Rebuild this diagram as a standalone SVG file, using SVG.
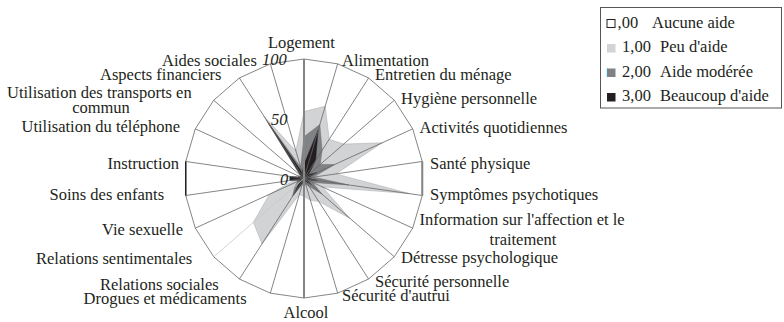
<svg xmlns="http://www.w3.org/2000/svg" width="784" height="322" viewBox="0 0 784 322">
<style>
text{font-family:"Liberation Serif","Times New Roman",serif;font-size:16.5px;fill:#231f20}
.it{font-style:italic}
.grid{fill:none;stroke:#666;stroke-width:0.8}
.s1{fill:#d1d3d4;stroke:#a7a9ac;stroke-width:0.5}
.s2{fill:#808285;stroke:#6d6e71;stroke-width:0.5}
.s3{fill:#231f20;stroke:#231f20;stroke-width:0.5}
</style>
<rect width="784" height="322" fill="#fff"/>
<g id="web-fill">
<polygon points="304,59 337.67,63.84 368.61,77.97 394.31,100.24 412.70,128.86 422.28,161.49 422.28,195.51 412.70,228.14 394.31,256.76 368.61,279.03 337.67,293.16 304,298 270.33,293.16 239.39,279.03 213.69,256.76 195.30,228.14 185.72,195.51 185.72,161.49 195.30,128.86 213.69,100.24 239.39,77.97 270.33,63.84" fill="#fff" stroke="none"/>
</g>
<g id="series">
<polygon id="peu-aide" class="s1" points="304,111.6 325.2,106.2 329.2,139.3 343.8,144.1 382.2,142.8 336.0,173.9 409.3,193.6 322.5,186.9 350.0,218.4 318.9,201.6 310.4,200.3 304,196.4 299.3,194.5 262.0,243.9 253.4,222.3 269.3,194.4 294.5,179.9 298.1,177.6 298.5,176.0 299.5,174.6 263.9,116.2 295.9,151.0"/>
<polygon id="aide-moderee" class="s2" points="304,136.7 319.8,124.6 322.1,150.3 320.2,164.4 334.5,164.6 313.5,177.1 348.9,185.0 312.7,182.5 322.1,194.2 309.2,186.6 305.7,184.3 304,184.5 302.3,184.3 292.4,196.6 294.9,186.4 297.5,181.5 296.9,179.5 296.9,177.5 299.6,176.5 300.4,175.4 266.5,120.2 300.6,167.0"/>
<polygon id="beaucoup-aide" class="s3" points="304,164.2 318.1,130.3 315.6,160.4 308.5,174.6 317.0,172.6 307.6,178.0 318.2,180.5 307.3,180.0 311.3,184.8 305.9,181.5 305.0,182.0 304,182.1 303.0,182.0 293.7,194.6 299.5,182.4 300.7,180.0 289.8,180.5 289.8,176.5 300.7,177.0 301.3,176.1 268.5,123.2 302.3,172.7"/>
</g>
<g id="grid">
<polygon class="grid" points="304,59 337.67,63.84 368.61,77.97 394.31,100.24 412.70,128.86 422.28,161.49 422.28,195.51 412.70,228.14 394.31,256.76 368.61,279.03 337.67,293.16 304,298 270.33,293.16 239.39,279.03 213.69,256.76 195.30,228.14 185.72,195.51 185.72,161.49 195.30,128.86 213.69,100.24 239.39,77.97 270.33,63.84"/>
<path class="grid" d="M304,178.5L337.67,63.84M304,178.5L368.61,77.97M304,178.5L394.31,100.24M304,178.5L412.70,128.86M304,178.5L422.28,161.49M304,178.5L422.28,195.51M304,178.5L412.70,228.14M304,178.5L394.31,256.76M304,178.5L368.61,279.03M304,178.5L337.67,293.16M304,178.5L270.33,293.16M304,178.5L239.39,279.03M304,178.5L195.30,228.14M304,178.5L185.72,195.51M304,178.5L185.72,161.49M304,178.5L195.30,128.86M304,178.5L213.69,100.24M304,178.5L239.39,77.97M304,178.5L270.33,63.84"/>
<line x1="304" y1="178.5" x2="213.69" y2="256.76" stroke="#c8c8c8" stroke-width="0.8"/>
<line x1="304" y1="59" x2="304" y2="298" stroke="#858585" stroke-width="2"/>
<line x1="422.28" y1="161.49" x2="422.28" y2="195.51" stroke="#858585" stroke-width="2"/>
<line x1="185.72" y1="161.49" x2="185.72" y2="195.51" stroke="#231f20" stroke-width="1.5"/>
</g>
<g id="scale">
<text class="it" x="262" y="65">100</text>
<text class="it" x="271" y="125">50</text>
<text class="it" x="280" y="185">0</text>
</g>
<g id="labels">
<text x="268" y="48">Logement</text>
<text x="342" y="66">Alimentation</text>
<text x="375" y="79.5">Entretien du ménage</text>
<text x="401" y="103.5">Hygiène personnelle</text>
<text x="419.5" y="133">Activités quotidiennes</text>
<text x="430" y="168.5">Santé physique</text>
<text x="430" y="200">Symptômes psychotiques</text>
<text x="419.5" y="225">Information sur l'affection et le</text>
<text x="523" y="245" text-anchor="middle">traitement</text>
<text x="401" y="263">Détresse psychologique</text>
<text x="375" y="287">Sécurité personnelle</text>
<text x="342" y="301">Sécurité d'autrui</text>
<text x="283.5" y="318">Alcool</text>
<text x="83.5" y="303.5">Drogues et médicaments</text>
<text x="100" y="289.5">Relations sociales</text>
<text x="36" y="264">Relations sentimentales</text>
<text x="102" y="235">Vie sexuelle</text>
<text x="49.5" y="200">Soins des enfants</text>
<text x="107.5" y="168.5">Instruction</text>
<text x="21.5" y="132">Utilisation du téléphone</text>
<text x="7" y="97.5">Utilisation des transports en</text>
<text x="101" y="113" text-anchor="middle">commun</text>
<text x="100" y="79.5">Aspects financiers</text>
<text x="162" y="66">Aides sociales</text>
</g>
<g id="legend">
<rect x="600.5" y="7.5" width="181" height="100.5" fill="#fff" stroke="#555" stroke-width="1"/>
<rect x="607" y="19.5" width="8" height="8" fill="#fff" stroke="#231f20" stroke-width="1"/>
<rect x="607" y="44" width="8.5" height="8.5" fill="#d1d3d4"/>
<rect x="607" y="68.5" width="8.5" height="8.5" fill="#808285"/>
<line x1="607.3" y1="68.5" x2="607.3" y2="77" stroke="#2aa3d8" stroke-width="0.8"/>
<rect x="607" y="93" width="8.5" height="8.5" fill="#231f20"/>
<text x="617.5" y="27.5">,00</text>
<text x="652" y="27.5">Aucune aide</text>
<text x="622" y="52">1,00</text>
<text x="660" y="52">Peu d'aide</text>
<text x="622" y="76.5">2,00</text>
<text x="660" y="76.5">Aide modérée</text>
<text x="622" y="101">3,00</text>
<text x="660" y="101">Beaucoup d'aide</text>
</g>
</svg>
